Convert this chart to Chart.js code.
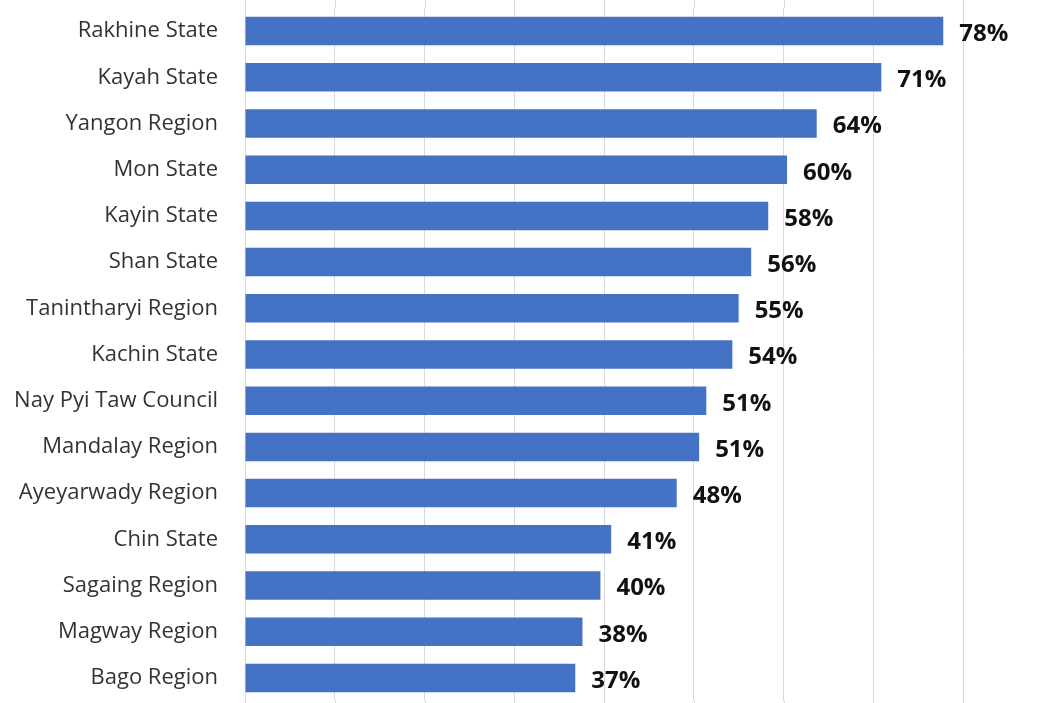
<!DOCTYPE html>
<html>
<head>
<meta charset="utf-8">
<script src="https://cdn.jsdelivr.net/npm/chart.js@4.4.1/dist/chart.umd.min.js"></script>
<style>
  html, body { margin: 0; padding: 0; background: #fff; overflow: hidden; }
  #wrap { position: relative; width: 1054px; height: 703px; }
</style>
</head>
<body>
<div id="wrap"><canvas id="regionChart"></canvas></div>
<script>
const regions = [
  'Rakhine State', 'Kayah State', 'Yangon Region', 'Mon State', 'Kayin State',
  'Shan State', 'Tanintharyi Region', 'Kachin State', 'Nay Pyi Taw Council',
  'Mandalay Region', 'Ayeyarwady Region', 'Chin State', 'Sagaing Region',
  'Magway Region', 'Bago Region'
];
const shares = [77.8, 70.9, 63.7, 60.4, 58.3, 56.4, 55.0, 54.3, 51.4, 50.6, 48.1, 40.8, 39.6, 37.6, 36.8];
const xTicks = [0, 10, 20, 30, 40, 50, 60, 70, 80];

const gridColor = '#d9d9d9';

// gridlines run past the plot area to the canvas edges
const longGrid = {
  id: 'longGrid',
  beforeDatasetsDraw(chart) {
    const { ctx, chartArea, scales } = chart;
    ctx.save();
    ctx.strokeStyle = gridColor;
    ctx.lineWidth = 1;
    xTicks.forEach(v => {
      const x = Math.round(scales.x.getPixelForValue(v)) + 0.5;
      ctx.beginPath();
      ctx.moveTo(x, 0);
      ctx.lineTo(x, chartArea.top);
      ctx.moveTo(x, chartArea.bottom);
      ctx.lineTo(x, chart.height);
      ctx.stroke();
    });
    ctx.restore();
  }
};

// percentage labels at the end of each bar
const valueLabels = {
  id: 'valueLabels',
  afterDatasetsDraw(chart) {
    const { ctx } = chart;
    const meta = chart.getDatasetMeta(0);
    ctx.save();
    ctx.font = 'bold 24px "Open Sans"';
    ctx.fillStyle = '#111';
    ctx.textAlign = 'left';
    ctx.textBaseline = 'middle';
    meta.data.forEach((bar, i) => {
      ctx.fillText(Math.round(shares[i]) + '%', bar.x + 16, bar.y + 3);
    });
    ctx.restore();
  }
};

new Chart(document.getElementById('regionChart'), {
  type: 'bar',
  data: {
    labels: regions,
    datasets: [{
      data: shares,
      backgroundColor: '#4472c4',
      borderWidth: 0,
      categoryPercentage: 1,
      barPercentage: 0.617
    }]
  },
  options: {
    indexAxis: 'y',
    responsive: true,
    maintainAspectRatio: false,
    animation: false,
    layout: { padding: { top: 8, bottom: 2, right: 91, left: 0 } },
    plugins: {
      legend: { display: false },
      tooltip: { enabled: false }
    },
    scales: {
      x: {
        min: 0,
        max: 80,
        afterBuildTicks(scale) { scale.ticks = xTicks.map(v => ({ value: v })); },
        afterFit(scale) { scale.height = 0; },
        ticks: { display: false },
        grid: { color: gridColor, drawTicks: false },
        border: { display: false }
      },
      y: {
        afterFit(scale) {
          scale.width = 245;
          scale.paddingTop = 0;
          scale.paddingBottom = 0;
        },
        ticks: {
          padding: 27,
          color: '#333',
          font: { family: 'Open Sans', size: 22 }
        },
        grid: { display: false, drawTicks: false },
        border: { color: gridColor }
      }
    }
  },
  plugins: [longGrid, valueLabels]
});
</script>
</body>
</html>
